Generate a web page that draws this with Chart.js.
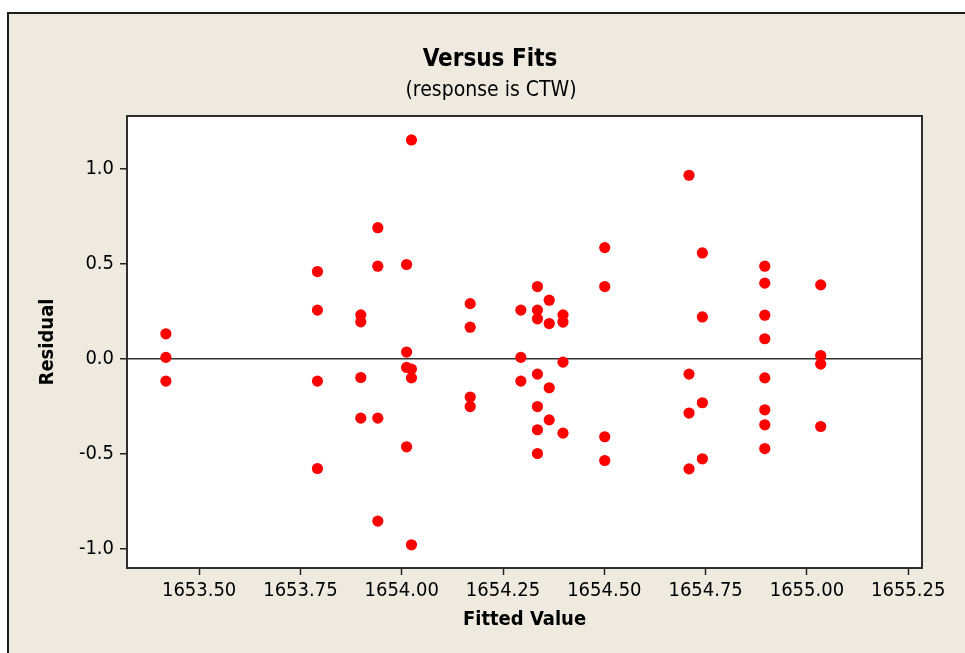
<!DOCTYPE html>
<html>
<head>
<meta charset="utf-8">
<script src="https://cdn.jsdelivr.net/npm/chart.js@4/dist/chart.umd.min.js"></script>
<style>
  html, body { margin: 0; padding: 0; background: #fff; overflow: hidden; }
  canvas { display: block; }
</style>
</head>
<body>
<canvas id="chart" width="965" height="653"></canvas>
<script>
// Residuals against fitted values, grouped by fitted value
const fitted = [
  1653.418, 1653.418, 1653.418,
  1653.792, 1653.792, 1653.792, 1653.792,
  1653.899, 1653.899, 1653.899, 1653.899,
  1653.941, 1653.941, 1653.941, 1653.941,
  1654.012, 1654.012, 1654.012, 1654.012,
  1654.024, 1654.024, 1654.024, 1654.024,
  1654.169, 1654.169, 1654.169, 1654.169,
  1654.294, 1654.294, 1654.294,
  1654.335, 1654.335, 1654.335, 1654.335, 1654.335, 1654.335, 1654.335,
  1654.364, 1654.364, 1654.364, 1654.364,
  1654.398, 1654.398, 1654.398, 1654.398,
  1654.501, 1654.501, 1654.501, 1654.501,
  1654.709, 1654.709, 1654.709, 1654.709,
  1654.742, 1654.742, 1654.742, 1654.742,
  1654.896, 1654.896, 1654.896, 1654.896, 1654.896, 1654.896, 1654.896, 1654.896,
  1655.034, 1655.034, 1655.034, 1655.034
];
const residual = [
  0.130, 0.006, -0.119,
  0.458, 0.255, -0.119, -0.579,
  0.230, 0.193, -0.100, -0.314,
  0.689, 0.486, -0.314, -0.856,
  0.495, 0.034, -0.047, -0.465,
  1.151, -0.056, -0.102, -0.981,
  0.289, 0.165, -0.203, -0.253,
  0.255, 0.006, -0.119,
  0.379, 0.255, 0.209, -0.082, -0.253, -0.375, -0.500,
  0.307, 0.184, -0.154, -0.323,
  0.230, 0.192, -0.019, -0.393,
  0.584, 0.379, -0.412, -0.537,
  0.965, -0.082, -0.287, -0.581,
  0.556, 0.219, -0.233, -0.528,
  0.486, 0.397, 0.228, 0.104, -0.102, -0.270, -0.349, -0.474,
  0.388, 0.016, -0.029, -0.358
];
const xTickLabels = ['1653.50', '1653.75', '1654.00', '1654.25', '1654.50', '1654.75', '1655.00', '1655.25'];
const yTickLabels = ['-1.0', '-0.5', '0.0', '0.5', '1.0'];

const titleText = 'Versus Fits';
const subtitleText = '(response is CTW)';
const xTitle = 'Fitted Value';
const yTitle = 'Residual';

const FONT = '"DejaVu Sans Condensed", "DejaVu Sans", sans-serif';
const INK = '#000';

const points = fitted.map((x, i) => ({ x, y: residual[i] }));

// Window background, beige panel, white plot area, headings and plot frame
const panel = {
  id: 'panel',
  beforeDraw(chart) {
    const { ctx, chartArea: a, width, height } = chart;
    ctx.save();
    ctx.fillStyle = '#fff';
    ctx.fillRect(0, 0, width, height);
    ctx.fillStyle = '#EEEAE0';
    ctx.fillRect(7, 12, width, height);
    ctx.fillStyle = '#1c1c1c';
    ctx.fillRect(7, 12, 2, height);
    ctx.fillRect(7, 12, width, 2);
    ctx.fillStyle = '#fff';
    ctx.fillRect(a.left, a.top, a.right - a.left, a.bottom - a.top);

    ctx.fillStyle = INK;
    ctx.textAlign = 'center';
    ctx.textBaseline = 'alphabetic';
    ctx.font = 'bold 24px ' + FONT;
    ctx.fillText(titleText, 490, 66);
    ctx.font = '21px ' + FONT;
    ctx.fillText(subtitleText, 491, 96);
    ctx.restore();
  },
  afterDraw(chart) {
    const { ctx, chartArea: a } = chart;
    ctx.save();
    ctx.strokeStyle = '#2e2e2e';
    ctx.lineWidth = 2;
    ctx.strokeRect(a.left, a.top, a.right - a.left, a.bottom - a.top);
    ctx.restore();
  }
};

new Chart(document.getElementById('chart'), {
  type: 'scatter',
  data: {
    datasets: [{
      data: points,
      backgroundColor: '#FF0000',
      borderColor: '#FF0000',
      borderWidth: 0,
      pointRadius: 5.6,
      pointHoverRadius: 5.6
    }]
  },
  options: {
    responsive: false,
    animation: false,
    events: [],
    layout: { padding: { left: 0, top: 116, right: 43, bottom: 0 } },
    plugins: {
      legend: { display: false },
      tooltip: { enabled: false },
      title: { display: false }
    },
    scales: {
      x: {
        type: 'linear',
        min: 1653.322,
        max: 1655.284,
        afterBuildTicks(scale) {
          scale.ticks = xTickLabels.map(t => ({ value: Number(t) }));
        },
        afterFit(scale) { scale.height = 85; },
        border: { display: false },
        grid: {
          drawOnChartArea: false,
          drawTicks: true,
          tickLength: 7,
          tickColor: '#222',
          tickWidth: 1.5
        },
        ticks: {
          autoSkip: false,
          maxRotation: 0,
          padding: 4,
          color: INK,
          font: { family: FONT, size: 20 },
          callback: (v, i) => xTickLabels[i]
        },
        title: {
          display: true,
          text: xTitle,
          color: INK,
          font: { family: FONT, size: 20, weight: 'bold' },
          padding: { top: 0, bottom: 21 }
        }
      },
      y: {
        type: 'linear',
        min: -1.103,
        max: 1.277,
        afterBuildTicks(scale) {
          scale.ticks = yTickLabels.map(t => ({ value: Number(t) }));
        },
        afterFit(scale) { scale.width = 127; },
        border: { display: false },
        grid: {
          drawOnChartArea: true,
          drawTicks: true,
          tickLength: 7,
          tickColor: '#222',
          tickWidth: 1.5,
          color: ctx => (ctx.tick && ctx.tick.value === 0 ? '#333' : 'rgba(0,0,0,0)'),
          lineWidth: 1.5
        },
        ticks: {
          autoSkip: false,
          padding: 6,
          color: INK,
          font: { family: FONT, size: 20 },
          callback: (v, i) => yTickLabels[i]
        },
        title: {
          display: true,
          text: yTitle,
          color: INK,
          font: { family: FONT, size: 20, weight: 'bold' },
          padding: { top: 36, bottom: 0 }
        }
      }
    }
  },
  plugins: [panel]
});
</script>
</body>
</html>
